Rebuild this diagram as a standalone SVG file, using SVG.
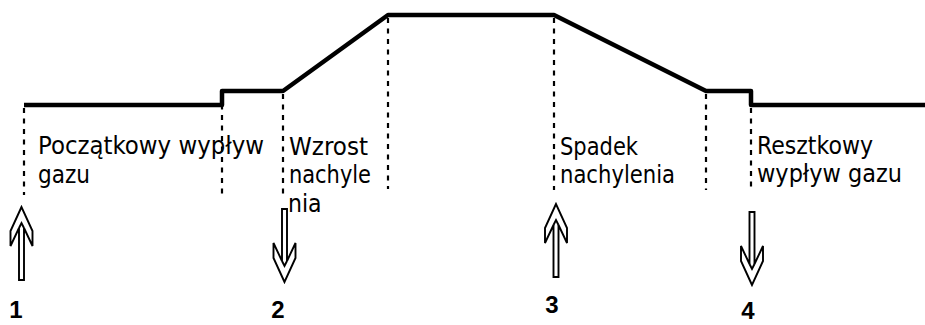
<svg xmlns="http://www.w3.org/2000/svg" width="925" height="325" viewBox="0 0 925 325">
  <style>
    .profile { fill: none; stroke: #000; stroke-width: 4.5; stroke-linejoin: round; }
    .guide { fill: none; stroke: #000; stroke-width: 2.2; stroke-dasharray: 5 5.5; }
    .lbl { font-family: "DejaVu Sans Condensed", "DejaVu Sans", sans-serif; font-stretch: condensed; font-size: 24.5px; fill: #000; }
    .num { font-family: "Liberation Sans", Arial, sans-serif; font-size: 24px; font-weight: bold; fill: #000; text-anchor: middle; }
    .arr { fill: #fff; stroke: #000; stroke-width: 1.9; stroke-linejoin: miter; }
  </style>
  <defs>
    <g id="arrowUp">
      <polygon class="arr" points="0,0 -11,24 -11,39 -2.5,21 -2.5,73 2.5,73 2.5,21 11,39 11,24"/>
      <polyline class="arr" fill="none" points="-2.5,21 0,16 2.5,21"/>
    </g>
  </defs>
  <rect width="925" height="325" fill="#fff"/>

  <g id="connectors">
    <path id="profile" class="profile" d="M24,105 H222 V91 H283 L388,15 H554 L706,91 H751 V105 H925"/>
    <g id="guides">
      <line class="guide" x1="24" y1="108" x2="24" y2="195"/>
      <line class="guide" x1="222" y1="94" x2="222" y2="195"/>
      <line class="guide" x1="283" y1="94" x2="283" y2="198"/>
      <line class="guide" x1="388" y1="18" x2="388" y2="189"/>
      <line class="guide" x1="554" y1="18" x2="554" y2="190"/>
      <line class="guide" x1="706" y1="94" x2="706" y2="190"/>
      <line class="guide" x1="751" y1="108" x2="751" y2="192"/>
    </g>
  </g>

  <g id="phase-pregas">
    <text class="lbl" x="38" y="154" textLength="226" lengthAdjust="spacingAndGlyphs">Początkowy wypływ</text>
    <text class="lbl" x="38" y="183" textLength="52" lengthAdjust="spacingAndGlyphs">gazu</text>
  </g>
  <g id="phase-upslope">
    <text class="lbl" x="289" y="155" textLength="79" lengthAdjust="spacingAndGlyphs">Wzrost</text>
    <text class="lbl" x="289" y="183" textLength="82" lengthAdjust="spacingAndGlyphs">nachyle</text>
    <text class="lbl" x="288" y="212">nia</text>
  </g>
  <g id="phase-downslope">
    <text class="lbl" x="560" y="155" textLength="78" lengthAdjust="spacingAndGlyphs">Spadek</text>
    <text class="lbl" x="560" y="183" textLength="115" lengthAdjust="spacingAndGlyphs">nachylenia</text>
  </g>
  <g id="phase-postgas">
    <text class="lbl" x="757" y="154" textLength="116" lengthAdjust="spacingAndGlyphs">Resztkowy</text>
    <text class="lbl" x="757" y="182" textLength="145" lengthAdjust="spacingAndGlyphs">wypływ gazu</text>
  </g>

  <g id="step-1">
    <use href="#arrowUp" transform="translate(21.5,207)"/>
    <text class="num" x="16" y="318">1</text>
  </g>
  <g id="step-2">
    <use href="#arrowUp" transform="translate(284.5,282) scale(1,-1)"/>
    <text class="num" x="278" y="318">2</text>
  </g>
  <g id="step-3">
    <use href="#arrowUp" transform="translate(556,204)"/>
    <text class="num" x="552" y="313">3</text>
  </g>
  <g id="step-4">
    <use href="#arrowUp" transform="translate(752,285) scale(1,-1)"/>
    <text class="num" x="748" y="319">4</text>
  </g>
</svg>
